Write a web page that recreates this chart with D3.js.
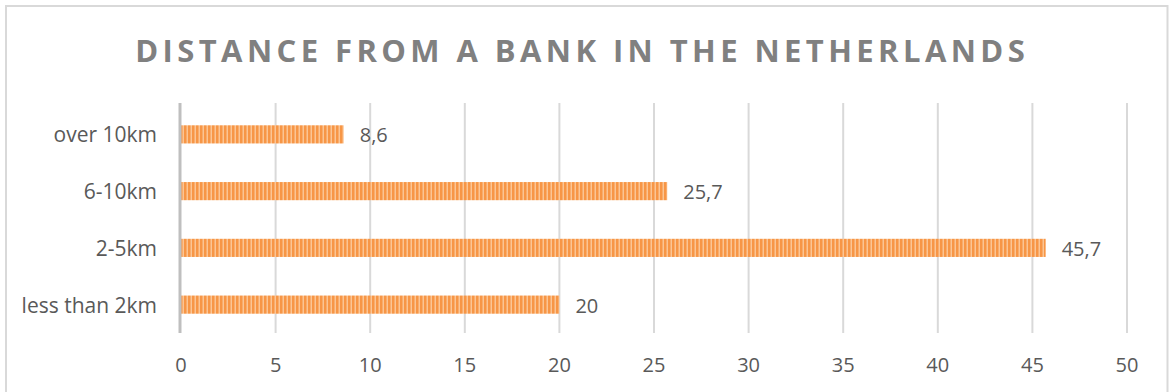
<!DOCTYPE html>
<meta charset="utf-8">
<html><head>
<style>
body { margin: 0; background: #fff; }
text { font-family: "Open Sans", sans-serif; fill: #595959; }
.title { font-weight: bold; fill: #808080; }
</style>
</head>
<body>
<svg width="1174" height="392"></svg>
<script src="https://cdn.jsdelivr.net/npm/d3@7"></script>
<script>

var categories = ["over 10km", "6-10km", "2-5km", "less than 2km"];
var values = [8.6, 25.7, 45.7, 20];
var valueLabels = ["8,6", "25,7", "45,7", "20"];
var ticks = [0, 5, 10, 15, 20, 25, 30, 35, 40, 45, 50];

var svg = d3.select("svg"),
    width = +svg.attr("width"),
    height = +svg.attr("height");

var margin = {top: 106, left: 181, right: 47, bottom: 59};

// outer frame (bottom edge falls off the picture)
svg.append("path")
    .attr("d", "M6," + (height + 5) + "V6H1167.5V" + (height + 5))
    .attr("fill", "none")
    .attr("stroke", "#d9d9d9")
    .attr("stroke-width", 2);

var defs = svg.append("defs");
var pat = defs.append("pattern")
    .attr("id", "stripes")
    .attr("patternUnits", "userSpaceOnUse")
    .attr("width", 4)
    .attr("height", 10);
pat.append("rect").attr("width", 4).attr("height", 10).attr("fill", "#f79646");
pat.append("rect").attr("x", 2.5).attr("width", 1.5).attr("height", 10).attr("fill", "#fbc594");

var x = d3.scaleLinear()
    .domain([0, 50])
    .range([margin.left, width - margin.right]);

var y = d3.scaleBand()
    .domain(categories)
    .range([margin.top, height - margin.bottom])
    .paddingInner(0.68)
    .paddingOuter(0.34);

var gridTop = 103, gridBottom = 333;

// gridlines
svg.append("g")
  .selectAll("line")
  .data(ticks.slice(1))
  .enter().append("line")
    .attr("x1", function(d) { return x(d); })
    .attr("x2", function(d) { return x(d); })
    .attr("y1", gridTop)
    .attr("y2", gridBottom)
    .attr("stroke", "#d9d9d9")
    .attr("stroke-width", 2);

// x tick labels
svg.append("g")
  .selectAll("text")
  .data(ticks)
  .enter().append("text")
    .attr("x", function(d) { return x(d); })
    .attr("y", 372)
    .attr("text-anchor", "middle")
    .style("font-size", "20px")
    .text(function(d) { return d; });

// bars
svg.append("g")
  .selectAll("rect")
  .data(values)
  .enter().append("rect")
    .attr("x", x(0))
    .attr("y", function(d, i) { return y(categories[i]); })
    .attr("width", function(d) { return x(d) - x(0); })
    .attr("height", y.bandwidth())
    .attr("fill", "url(#stripes)");

// value labels
svg.append("g")
  .selectAll("text")
  .data(values)
  .enter().append("text")
    .attr("x", function(d) { return x(d) + 16; })
    .attr("y", function(d, i) { return y(categories[i]) + y.bandwidth() / 2 + 8; })
    .style("font-size", "20px")
    .text(function(d, i) { return valueLabels[i]; });

// category labels
svg.append("g")
  .selectAll("text")
  .data(categories)
  .enter().append("text")
    .attr("x", 157)
    .attr("y", function(d) { return y(d) + y.bandwidth() / 2 + 8; })
    .attr("text-anchor", "end")
    .style("font-size", "21px")
    .text(function(d) { return d; });

// vertical axis line
svg.append("line")
    .attr("x1", x(0) - 1).attr("x2", x(0) - 1)
    .attr("y1", gridTop)
    .attr("y2", gridBottom)
    .attr("stroke", "#bfbfbf")
    .attr("stroke-width", 3);

var title = svg.append("text")
    .attr("class", "title")
    .attr("x", 580)
    .attr("y", 62)
    .attr("text-anchor", "middle")
    .style("font-size", "31px")
    .style("letter-spacing", "3px")
    .text("DISTANCE FROM A BANK IN THE NETHERLANDS");

// stretch spacing so the title spans the same width as in the original
var target = 894, n = title.text().length;
var w = title.node().getComputedTextLength();
var sp = 3 + (target - w) / n;
title.style("letter-spacing", sp + "px")
    .attr("x", 580 + sp / 2);

</script>
</body>
</html>
